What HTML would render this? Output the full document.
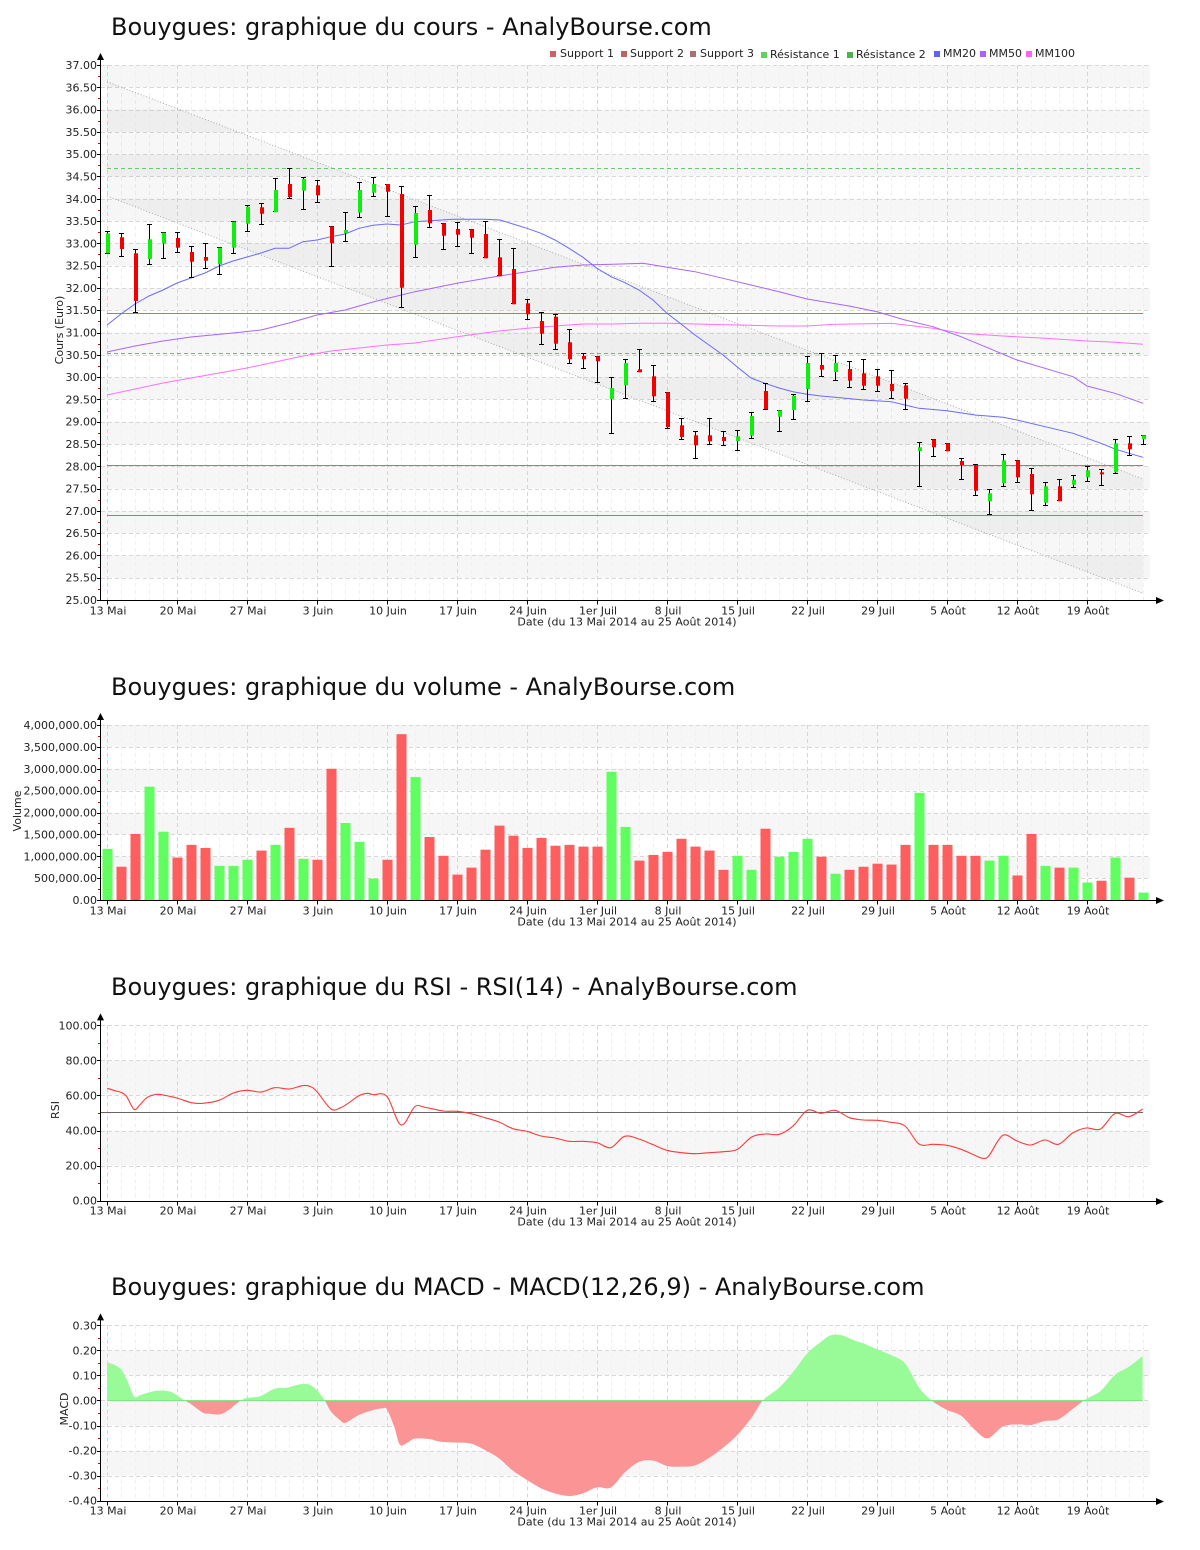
<!DOCTYPE html>
<html><head><meta charset="utf-8">
<style>
html,body{margin:0;padding:0;background:#fff;}
svg{display:block;font-family:"DejaVu Sans","Liberation Sans",sans-serif;}
</style></head><body>
<svg id="s" width="1200" height="1550" viewBox="0 0 1200 1550" xmlns="http://www.w3.org/2000/svg">
<rect width="1200" height="1550" fill="#fff"/>
<g id="g"></g>
<g fill="#111" font-size="24">
<text x="111" y="35">Bouygues: graphique du cours - AnalyBourse.com</text>
<text x="111" y="695">Bouygues: graphique du volume - AnalyBourse.com</text>
<text x="111" y="995">Bouygues: graphique du RSI - RSI(14) - AnalyBourse.com</text>
<text x="111" y="1295">Bouygues: graphique du MACD - MACD(12,26,9) - AnalyBourse.com</text>
</g>
<g font-size="11" fill="#222">
<rect x="550" y="51" width="6" height="6" fill="#d06060"/><text x="560" y="57">Support 1</text>
<rect x="621" y="51" width="6" height="6" fill="#c06262"/><text x="630" y="57">Support 2</text>
<rect x="690" y="51" width="6" height="6" fill="#a87070"/><text x="700" y="57">Support 3</text>
<rect x="761" y="52" width="6" height="6" fill="#60d060"/><text x="770" y="58">Résistance 1</text>
<rect x="847" y="52" width="6" height="6" fill="#50b050"/><text x="856" y="58">Résistance 2</text>
<rect x="934" y="51" width="6" height="6" fill="#6060ff"/><text x="943" y="57">MM20</text>
<rect x="980" y="51" width="6" height="6" fill="#b060ff"/><text x="989" y="57">MM50</text>
<rect x="1026" y="51" width="6" height="6" fill="#ff60ff"/><text x="1035" y="57">MM100</text>
</g>
<g font-size="11" fill="#222" text-anchor="end">
<text x="97" y="69">37.00</text><text x="97" y="91.3">36.50</text><text x="97" y="113.6">36.00</text><text x="97" y="135.9">35.50</text><text x="97" y="158.2">35.00</text><text x="97" y="180.5">34.50</text><text x="97" y="202.8">34.00</text><text x="97" y="225">33.50</text><text x="97" y="247.3">33.00</text><text x="97" y="269.6">32.50</text><text x="97" y="291.9">32.00</text><text x="97" y="314.2">31.50</text><text x="97" y="336.5">31.00</text><text x="97" y="358.8">30.50</text><text x="97" y="381.1">30.00</text><text x="97" y="403.4">29.50</text><text x="97" y="425.7">29.00</text><text x="97" y="448">28.50</text><text x="97" y="470.3">28.00</text><text x="97" y="492.5">27.50</text><text x="97" y="514.8">27.00</text><text x="97" y="537.1">26.50</text><text x="97" y="559.4">26.00</text><text x="97" y="581.7">25.50</text><text x="97" y="604">25.00</text>
<text x="97" y="729">4,000,000.00</text><text x="97" y="750.9">3,500,000.00</text><text x="97" y="772.8">3,000,000.00</text><text x="97" y="794.6">2,500,000.00</text><text x="97" y="816.5">2,000,000.00</text><text x="97" y="838.4">1,500,000.00</text><text x="97" y="860.3">1,000,000.00</text><text x="97" y="882.1">500,000.00</text><text x="97" y="904">0.00</text>
<text x="97" y="1029.3">100.00</text><text x="97" y="1064.4">80.00</text><text x="97" y="1099.5">60.00</text><text x="97" y="1134.5">40.00</text><text x="97" y="1169.6">20.00</text><text x="97" y="1204.7">0.00</text>
<text x="97" y="1329.3">0.30</text><text x="97" y="1354.4">0.20</text><text x="97" y="1379.4">0.10</text><text x="97" y="1404.5">0.00</text><text x="97" y="1429.5">-0.10</text><text x="97" y="1454.6">-0.20</text><text x="97" y="1479.6">-0.30</text><text x="97" y="1504.7">-0.40</text>
</g>
<g font-size="11" fill="#222" text-anchor="middle">
<text transform="translate(63,330) rotate(-90)">Cours (Euro)</text>
<text transform="translate(21,811) rotate(-90)">Volume</text>
<text transform="translate(59,1110) rotate(-90)">RSI</text>
<text transform="translate(68,1409) rotate(-90)">MACD</text>

<text x="108" y="614.5">13 Mai</text><text x="178" y="614.5">20 Mai</text><text x="248" y="614.5">27 Mai</text><text x="318" y="614.5">3 Juin</text><text x="388" y="614.5">10 Juin</text><text x="458" y="614.5">17 Juin</text><text x="528" y="614.5">24 Juin</text><text x="598" y="614.5">1er Juil</text><text x="668" y="614.5">8 Juil</text><text x="738" y="614.5">15 Juil</text><text x="808" y="614.5">22 Juil</text><text x="878" y="614.5">29 Juil</text><text x="948" y="614.5">5 Août</text><text x="1018" y="614.5">12 Août</text><text x="1088" y="614.5">19 Août</text>
<text x="627" y="625.5">Date (du 13 Mai 2014 au 25 Août 2014)</text>

<text x="108" y="914.5">13 Mai</text><text x="178" y="914.5">20 Mai</text><text x="248" y="914.5">27 Mai</text><text x="318" y="914.5">3 Juin</text><text x="388" y="914.5">10 Juin</text><text x="458" y="914.5">17 Juin</text><text x="528" y="914.5">24 Juin</text><text x="598" y="914.5">1er Juil</text><text x="668" y="914.5">8 Juil</text><text x="738" y="914.5">15 Juil</text><text x="808" y="914.5">22 Juil</text><text x="878" y="914.5">29 Juil</text><text x="948" y="914.5">5 Août</text><text x="1018" y="914.5">12 Août</text><text x="1088" y="914.5">19 Août</text>
<text x="627" y="925.5">Date (du 13 Mai 2014 au 25 Août 2014)</text>

<text x="108" y="1214.5">13 Mai</text><text x="178" y="1214.5">20 Mai</text><text x="248" y="1214.5">27 Mai</text><text x="318" y="1214.5">3 Juin</text><text x="388" y="1214.5">10 Juin</text><text x="458" y="1214.5">17 Juin</text><text x="528" y="1214.5">24 Juin</text><text x="598" y="1214.5">1er Juil</text><text x="668" y="1214.5">8 Juil</text><text x="738" y="1214.5">15 Juil</text><text x="808" y="1214.5">22 Juil</text><text x="878" y="1214.5">29 Juil</text><text x="948" y="1214.5">5 Août</text><text x="1018" y="1214.5">12 Août</text><text x="1088" y="1214.5">19 Août</text>
<text x="627" y="1225.5">Date (du 13 Mai 2014 au 25 Août 2014)</text>

<text x="108" y="1514.5">13 Mai</text><text x="178" y="1514.5">20 Mai</text><text x="248" y="1514.5">27 Mai</text><text x="318" y="1514.5">3 Juin</text><text x="388" y="1514.5">10 Juin</text><text x="458" y="1514.5">17 Juin</text><text x="528" y="1514.5">24 Juin</text><text x="598" y="1514.5">1er Juil</text><text x="668" y="1514.5">8 Juil</text><text x="738" y="1514.5">15 Juil</text><text x="808" y="1514.5">22 Juil</text><text x="878" y="1514.5">29 Juil</text><text x="948" y="1514.5">5 Août</text><text x="1018" y="1514.5">12 Août</text><text x="1088" y="1514.5">19 Août</text>
<text x="627" y="1525.5">Date (du 13 Mai 2014 au 25 Août 2014)</text>
</g>
</svg>
<script>
(function(){
var h='';
function L(x1,y1,x2,y2,st,ex){h+='<line x1="'+x1+'" y1="'+y1+'" x2="'+x2+'" y2="'+y2+'" stroke="'+st+'" '+(ex||'')+'/>';}
function R(x,y,w,hh,f){h+='<rect x="'+x+'" y="'+y+'" width="'+w+'" height="'+hh+'" fill="'+f+'"/>';}
function frame(top,n,step,gray){
  var bot=top+step*(n-1);
  R(101,top,1049,bot-top,'#fff');
  for(var j=0;j<gray.length;j++){R(101,top+gray[j]*step,1049,step,'#f6f6f6');}
  for(var i=0;i<75;i++){var x=107+14*i+0.5;L(x,top,x,bot,(i%5==0)?'#d6d6d6':'#efefef','stroke-dasharray="4,3"');}
  for(var k=0;k<n;k++){var y=Math.round(top+k*step)+0.5;L(101,y,1150,y,'#d8d8d8','stroke-dasharray="4,3"');}
}
function axes(top,n,step){
  var bot=top+step*(n-1);
  var by=Math.round(bot)+0.5;
  L(100.5,top-6,100.5,by,'#000');
  h+='<path d="M100.5,'+(top-12)+' L97,'+(top-5)+' L104,'+(top-5)+' Z" fill="#000"/>';
  for(var k=0;k<n;k++){var y=Math.round(top+k*step)+0.5;L(97,y,100,y,'#000');}
  for(var k2=0;k2<n-1;k2++){var y2=Math.round(top+(k2+0.5)*step)+0.5;L(98,y2,100,y2,'#e00000');}
  L(100,by,1157,by,'#000');
  h+='<path d="M1164,'+by+' L1156,'+(by-3.5)+' L1156,'+(by+3.5)+' Z" fill="#000"/>';
  for(var m=0;m<15;m++){var x=107+70*m+0.5;L(x,by,x,by+4,'#000');}
}
function poly(pts,st,w){var s='';for(var i=0;i<pts.length;i++){s+=pts[i][0]+','+pts[i][1]+' ';}h+='<polyline points="'+s+'" fill="none" stroke="'+st+'" stroke-width="'+(w||1)+'"/>';}
function smooth(p){
  var d='M'+p[0][0]+','+p[0][1];
  for(var i=0;i<p.length-1;i++){
    var p0=p[i-1]||p[i],p1=p[i],p2=p[i+1],p3=p[i+2]||p2;
    var c1x=p1[0]+(p2[0]-p0[0])/6,c1y=p1[1]+(p2[1]-p0[1])/6;
    var c2x=p2[0]-(p3[0]-p1[0])/6,c2y=p2[1]-(p3[1]-p1[1])/6;
    d+=' C'+c1x.toFixed(2)+','+c1y.toFixed(2)+' '+c2x.toFixed(2)+','+c2y.toFixed(2)+' '+p2[0]+','+p2[1];
  }
  return d;
}

/* ---------- PRICE ---------- */
var pt=65,ps=535/24;
frame(pt,25,ps,[0,2,4,6,8,10,12,14,16,18,20,22]);
h+='<polygon points="107,81.7 1143,479 1143,593.3 107,196" fill="rgba(0,0,0,0.03)"/>';
L(107,81.7,1143,479,'#aaaaaa','stroke-dasharray="1,2"');
L(107,196,1143,593.3,'#aaaaaa','stroke-dasharray="1,2"');
L(107,168.5,1143,168.5,'#66cc66','stroke-dasharray="4,3"');
L(107,313.5,1143,313.5,'#b87676');
L(107,353.5,1143,353.5,'#88aa88','stroke-dasharray="4,3"');
L(107,465.5,1143,465.5,'#a07e7e');
L(107,515.5,1143,515.5,'#a07e7e');
poly([[107,395],[135,389],[163,383],[191,378],[219,373],[247,368],[275,362],[303,356],[331,351],[359,348],[387,345],[415,343],[457,336.7],[499,331],[527,328.3],[555,326],[583,324],[611,324],[639,323.3],[667,323.3],[695,324],[780,326],[807,326],[835,324.3],[891,323.3],[933,328.3],[961,333.3],[1003,336],[1045,338.3],[1087,341],[1115,342.3],[1143,344.3]],'#ff70ff');
poly([[107,352],[135,346],[163,341],[191,337],[233,333],[261,330],[289,323],[317,315],[345,310],[373,302],[387,298.5],[415,291.7],[457,283.3],[499,276],[527,271.7],[555,267.3],[583,265],[613,264.3],[643,263.3],[667,267.3],[695,271.7],[723,278.3],[751,285],[780,292],[807,299],[849,306],[877,311.7],[905,320],[933,326.7],[961,336.7],[989,348.3],[1017,360],[1045,368.3],[1073,376.7],[1087,386],[1115,393.3],[1143,403.3]],'#a964ff');
poly([[107,325],[121,314],[135,304],[149,296],[163,290],[177,283],[191,278],[205,273],[219,266],[233,261],[247,257],[261,253],[275,248.3],[289,248.3],[303,241.7],[317,240],[331,236.7],[345,234],[359,228.3],[373,225.3],[387,224],[401,225],[415,221.7],[453,219.3],[485,219.3],[500,220],[513,224],[527,228.3],[541,233.3],[555,240],[569,248.3],[583,257.3],[597,268.3],[611,276.7],[625,282.7],[639,290],[653,300],[667,313.3],[681,324],[695,335],[709,345],[723,355],[737,366.7],[751,378],[765,383.3],[779,388],[793,391.7],[807,394.3],[821,396],[835,397.3],[863,400],[891,401.7],[905,405],[919,408.3],[947,410.7],[975,415],[1003,417.3],[1017,420],[1045,426.7],[1073,433.3],[1101,443.3],[1115,449],[1129,453.3],[1143,457.3]],'#6a6aff');
var cd=[[230.7,254.3,233.3,253.3,1],[233.3,256.7,237.3,249,0],[249.3,313,253.3,301,0],[224.3,265.3,239.3,259,1],[232.3,259.3,232.7,243.7,1],[232.3,253.3,238,247.7,0],[246.3,278.3,252,261.7,0],[243.3,268.7,257,260.7,0],[247.3,275.3,247.7,264.3,1],[221.3,254.3,221.7,247.7,1],
[205.3,232.3,206.7,223.7,1],[203.3,225.3,207.3,213.7,0],[178.3,212.3,190,212.3,1],[168.3,199.3,184,197,0],[177.3,210.3,179,190.7,1],[180.3,203.3,185.3,195.3,0],[226.3,267.3,226.3,243.3,0],[212.3,242.3,230,233.3,1],[182.3,218.3,190,212.7,1],[177.3,197.3,184,192.7,1],
[184,217.3,184,191.7,0],[186,308.3,194,287.7,0],[206,258.3,213,244.7,1],[195.3,228.3,210,223.3,0],[223.3,250.3,223.3,235.7,0],[222.3,247.3,229,234.7,0],[229.3,254.3,229.3,237.7,0],[221.3,258.3,234,258.3,0],[239.3,276.3,257.3,276.3,0],[248.3,304.3,269,304.3,0],
[299.3,320.3,303.3,314.3,0],[312.3,345.3,321,333.7,0],[314.3,350.3,316.7,343.7,0],[329.3,364.3,342.3,359.3,0],[352.7,369.3,356,359.3,0],[356.3,383.3,356.3,361.3,0],[377.3,434.3,388,399.3,1],[359.3,399.3,363,385.3,1],[349.3,372.3,369.3,372.3,0],[365.3,402.3,376.3,396.3,0],
[392.3,429.3,392.3,427,0],[418.3,440.3,425.3,437,0],[431.3,459.3,435.3,445.3,0],[418.3,445.3,435.3,441.3,0],[431.3,446.3,437,441,0],[430.3,451.3,436.3,441,1],[412.3,439.3,416,435.7,1],[383.3,410.3,391,409.3,0],[410.3,431.7,410.3,416.7,1],[394.3,420.3,395.7,410,1],
[356.3,402.3,363,389,1],[353,377.3,365,369.7,0],[355.3,381.3,363,372,1],[361.3,388.3,369,380.7,0],[359.3,390.3,373.3,385.7,0],[369.3,392.3,376.3,385.7,0],[370.3,399.3,384,391,0],[383.3,410.3,385.3,398.7,0],[442.3,487.3,447.3,451,1],[439.3,457.3,439.3,447.3,0],
[443.3,451.3,443.3,451.3,0],[458.3,480.3,461,465,0],[464.3,496.3,465.3,490.7,0],[489.3,515.3,493.3,501.3,1],[454.3,487.3,460.3,483.3,1],[460.3,483.3,460.3,477.3,0],[468.3,511.3,474,494.3,0],[482.3,506.3,486.3,502.7,1],[479.3,501.3,486.3,501.3,0],[475.3,488.3,479.7,484.7,1],
[466.3,482.3,470.3,477.3,1],[469.3,486.3,472.3,474.3,0],[439.3,474.3,443.3,472.3,1],[436.3,456.3,443.3,449.3,0],[435.3,445.3,435.3,439.3,1]];
for(var i=0;i<cd.length;i++){
  var c=cd[i],x=107+14*i,t=Math.round(c[0])+0.5,b=Math.round(c[1])-0.5;
  L(x+0.5,t,x+0.5,b,'#000');
  L(x-2,t,x+3,t,'#000');
  L(x-2,b,x+3,b,'#000');
  R(x-1,c[2],4,Math.max(c[3]-c[2],2),c[4]?'#10ee10':'#f00000');
}
axes(pt,25,ps);

/* ---------- VOLUME ---------- */
var vt=725,vs=21.875;
frame(vt,9,vs,[0,2,4,6]);
var vol=[1.17,0.76,1.51,2.59,1.56,0.97,1.26,1.19,0.78,0.78,0.92,1.13,1.26,1.65,0.94,0.92,3.0,1.76,1.33,0.49,0.92,3.79,2.81,1.44,1.01,0.58,0.74,1.15,1.70,1.47,1.19,1.42,1.24,1.26,1.22,1.22,2.93,1.67,0.90,1.03,1.10,1.40,1.22,1.13,0.69,1.01,0.69,1.63,0.99,1.10,1.40,0.99,0.60,0.69,0.76,0.83,0.81,1.26,2.45,1.26,1.26,1.01,1.01,0.90,1.01,0.56,1.51,0.78,0.74,0.74,0.40,0.44,0.97,0.51,0.17];
for(var j=0;j<vol.length;j++){var hh=vol[j]*43.75;R(107+14*j-4.5,900-hh,10,hh,cd[j][4]?'#5eff5e':'#ff5e5e');}
axes(vt,9,vs);

/* ---------- RSI ---------- */
var rt=1025.33,rs=35.067;
frame(rt,6,rs,[1,3]);
L(101,1112.5,1143,1112.5,'#666');
var rsi=[[107.2,235],[114.8,242],[120.9,247],[126.3,258],[134,298],[139.7,285],[147.3,262],[157,253],[164.6,256],[176.8,264],[191.4,278],[202.8,280],[218.9,271],[233.4,249],[246.8,241],[261,246],[274.8,233],[289,237],[302.3,227],[310,229],[316.9,245],[331,297],[340.6,293],[349,278],[359,257],[367.4,250],[373.1,254],[386.9,259],[401,345],[414.8,290],[424.8,292],[443.2,303],[457,304],[471,311],[485,323],[499,336],[512.8,356],[527,364],[541,378],[555,384],[569,394],[583,394],[597,398],
[610.7,413],[624.6,379],[638.9,387],[653,404],[667,421],[681.4,428],[695.3,431],[709.5,428],[723.5,425],[737.4,418],[751.7,381],[765.6,372],[779.5,373],[793.4,347],[807.3,301],[821.2,310],[835,301],[849.4,323],[863.3,330],[877.2,331],[890.8,337],[905,348],[919,402],[932.9,403],[947.1,406],[961,418],[975,436],[982.9,445],[989.2,436],[1002.8,376],[1017,393],[1030.6,405],[1044.9,390],[1058.4,403],[1072.7,369],[1086.2,354],[1100.5,357],[1114.8,311],[1129,320],[1142.6,297]];
var rp=rsi.map(function(p){return [p[0],+(1010+p[1]/3).toFixed(2)];});
h+='<path d="'+smooth(rp)+'" fill="none" stroke="#ff3a3a" stroke-width="1.1"/>';
axes(rt,6,rs);

/* ---------- MACD ---------- */
var mt=1325.33,ms=25.048;
frame(mt,8,ms,[1,3,5]);
var mac=[[107,158],[114.8,165],[121,178],[126.3,205],[134,259],[139.7,256],[148.9,247],[158.8,242],[170.3,245],[179.9,262],[185.6,273],[191.4,283],[202.8,308],[208.6,311],[220,313],[229.6,298],[237.3,279],[244.9,265],[252.6,262],[261,258],[274.8,236],[287,233],[298.5,224],[306.2,222],[311.9,228],[317.6,243],[324.5,270],[331,305],[338.7,327],[344.4,339],[352.1,327],[359.7,314],[373.1,300],[382.7,295],[386.9,298],[394.2,350],[399.9,404],[407.6,398],[414.8,386],[429,387],[440.1,395],[457,398],[471.1,401],[484.9,420],[499,445],[512.8,482],[527,510],[541.1,535],[554.9,550],[569.1,558],[582.9,550],[597,532],
[610.7,533],[624.6,488],[638.9,456],[653.2,452],[667.1,468],[681.4,470],[695.3,466],[709.5,443],[723.5,412],[737.4,375],[751.7,322],[763,271],[779.5,232],[793.4,185],[807.3,130],[821.2,95],[830.6,76],[841.9,76],[853.2,90],[863.3,100],[877.2,118],[890.8,135],[905,160],[919,232],[931.4,271],[947.1,300],[961,317],[975,360],[987.7,385],[1002.8,350],[1017,343],[1030.6,345],[1044.9,333],[1058.4,328],[1072.7,297],[1086.2,267],[1100.5,243],[1114.8,195],[1129,170],[1142.6,138]];
var mp=mac.map(function(p){return [p[0],+(1310+p[1]/3).toFixed(2)];});
var md=smooth(mp)+' L1142.6,1400.33 L107,1400.33 Z';
h+='<clipPath id="cu"><rect x="100" y="1300" width="1060" height="100.33"/></clipPath><clipPath id="cdn"><rect x="100" y="1400.33" width="1060" height="110"/></clipPath>';
h+='<path d="'+md+'" fill="#98fb98" clip-path="url(#cu)"/>';
h+='<path d="'+md+'" fill="#fb9595" clip-path="url(#cdn)"/>';
L(107,1400.5,1143,1400.5,'#7fe87f');
axes(mt,8,ms);

document.getElementById('g').innerHTML=h;
})();
</script>
</body></html>
